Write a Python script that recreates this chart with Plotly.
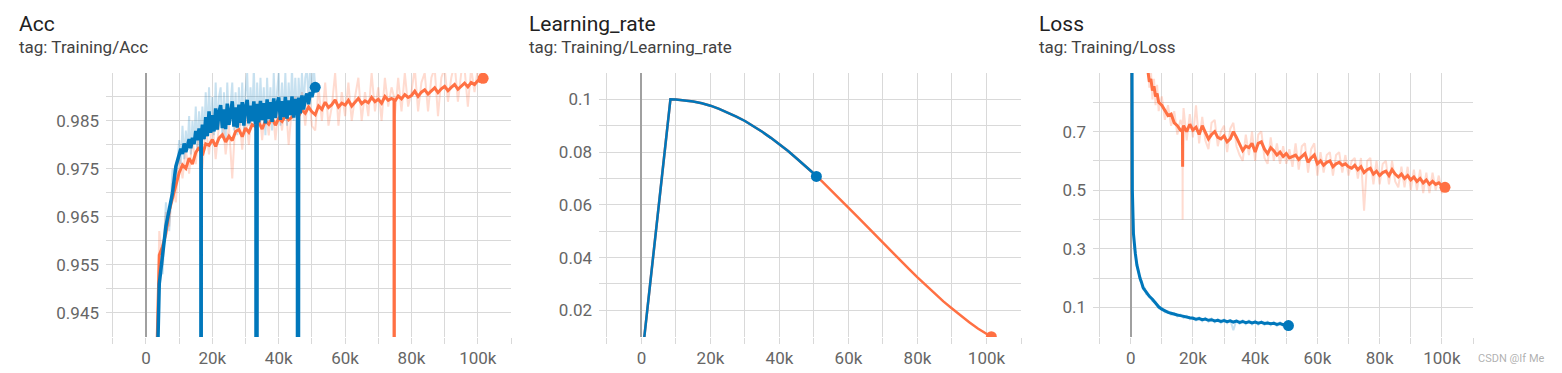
import plotly.graph_objects as go

# ---------------- DATA (steps in thousands) ----------------
acc_blue_steps = [3.5, 4, 5, 6, 7, 8, 9, 10, 10.5, 11, 11.5, 12, 12.5, 13, 13.5, 14, 14.5, 15, 15.5, 16,
                  16.55, 16.6, 16.65, 17, 17.5, 18, 18.5, 19, 19.5, 20, 20.5, 21, 21.5, 22, 22.5, 23, 23.5,
                  24, 24.5, 25, 25.5, 26, 26.5, 27, 27.5, 28, 28.5, 29, 29.5, 30, 30.5, 31, 31.5, 32, 32.5,
                  33, 33.15, 33.2, 33.25, 33.5, 34, 34.5, 35, 35.5, 36, 36.5, 37, 37.5, 38, 38.5, 39, 39.5,
                  40, 40.5, 41, 41.5, 42, 42.5, 43, 43.5, 44, 44.5, 45, 45.5, 45.65, 45.7, 45.75, 46, 46.5,
                  47, 47.5, 48, 48.5, 49, 49.5, 50, 50.5, 51]
acc_blue_smooth = [0.936, 0.951, 0.957, 0.963, 0.9665, 0.970, 0.9755, 0.9778, 0.9792, 0.9781, 0.9803, 0.9785,
                   0.9798, 0.9812, 0.9793, 0.9815, 0.9802, 0.9829, 0.9810, 0.9834,
                   0.9815, 0.60, 0.9818, 0.9842, 0.9812, 0.9858, 0.9818, 0.9870, 0.9825, 0.9862, 0.9828,
                   0.9876, 0.9832, 0.9868, 0.9883, 0.9835, 0.9874,
                   0.9833, 0.9886, 0.9842, 0.9872, 0.9891, 0.9838, 0.9878, 0.9836, 0.9884, 0.9846, 0.9889,
                   0.9840, 0.9880, 0.9894, 0.9845, 0.9882, 0.9849, 0.9891,
                   0.9843, 0.9846, 0.60, 0.9850, 0.9886, 0.9847, 0.9892, 0.9852, 0.9887, 0.9845, 0.9895,
                   0.9854, 0.9889, 0.9848, 0.9897, 0.9856, 0.9886,
                   0.9899, 0.9852, 0.9891, 0.9858, 0.9900, 0.9855, 0.9893, 0.9862, 0.9901, 0.9857, 0.9896,
                   0.9864, 0.9866, 0.60, 0.9868, 0.9899, 0.9866,
                   0.9903, 0.9874, 0.9898, 0.9907, 0.9885, 0.9910, 0.9900, 0.9914, 0.9920]
acc_blue_raw = [0.934, 0.955, 0.953, 0.968, 0.962, 0.975, 0.972, 0.981, 0.976, 0.984, 0.977, 0.983,
                0.979, 0.986, 0.978, 0.985, 0.980, 0.988, 0.979, 0.987,
                0.982, 0.60, 0.983, 0.988, 0.981, 0.991, 0.982, 0.992, 0.983, 0.990, 0.982,
                0.993, 0.983, 0.990, 0.992, 0.982, 0.991,
                0.981, 0.993, 0.984, 0.989, 0.993, 0.983, 0.991, 0.982, 0.992, 0.984, 0.993,
                0.983, 0.991, 0.995, 0.984, 0.992, 0.985, 0.996,
                0.983, 0.984, 0.60, 0.985, 0.993, 0.984, 0.994, 0.985, 0.992, 0.982, 0.994,
                0.985, 0.992, 0.983, 0.995, 0.986, 0.991,
                0.995, 0.984, 0.993, 0.985, 0.995, 0.984, 0.993, 0.986, 0.996, 0.985, 0.994,
                0.986, 0.987, 0.60, 0.987, 0.994, 0.987,
                0.995, 0.988, 0.994, 0.996, 0.989, 0.996, 0.990, 0.997, 0.992]

acc_orange_steps = [3.3, 4, 5, 6, 7, 8, 9, 10, 11, 12, 13, 14, 15, 16, 17, 18, 19, 20, 21, 22, 23, 24, 25, 26,
                    27, 28, 29, 30, 31, 32, 33, 34, 35, 36, 37, 38, 39, 40, 41, 42, 43, 44, 45, 46, 47, 48, 49,
                    50, 51, 52, 53, 54, 55, 56, 57, 58, 59, 60, 61, 62, 63, 64, 65, 66, 67, 68, 69, 70, 71, 72,
                    73, 74, 74.75, 74.8, 74.85, 75, 76, 77, 78, 79, 80, 81, 82, 83, 84, 85, 86, 87, 88, 89, 90,
                    91, 92, 93, 94, 95, 96, 97, 98, 99, 100, 101, 101.6]
acc_orange_smooth = [0.937, 0.9570, 0.9588, 0.9615, 0.9662, 0.9690, 0.9718, 0.9742, 0.9758, 0.9751, 0.9772,
                     0.9760, 0.9784, 0.9795, 0.9778, 0.9802, 0.9799, 0.9811, 0.9797, 0.9814, 0.9821, 0.9806,
                     0.9818, 0.9809, 0.9828, 0.9832, 0.9817, 0.9835, 0.9826, 0.9842, 0.9838, 0.9847, 0.9833,
                     0.9850, 0.9843, 0.9856, 0.9841, 0.9855, 0.9849, 0.9861, 0.9852, 0.9858, 0.9868, 0.9860,
                     0.9873, 0.9866, 0.9879, 0.9869, 0.9863, 0.9881, 0.9874, 0.9889, 0.9878, 0.9884, 0.9894,
                     0.9879, 0.9887, 0.9883, 0.9893, 0.9881, 0.9889, 0.9897, 0.9886, 0.9892, 0.9888, 0.9899,
                     0.9890, 0.9895, 0.9887, 0.9901, 0.9893, 0.9897, 0.9894, 0.60, 0.9893, 0.9891, 0.9902,
                     0.9896, 0.9905, 0.9899, 0.9903, 0.9912, 0.9901, 0.9910, 0.9915, 0.9906, 0.9913, 0.9919,
                     0.9909, 0.9917, 0.9922, 0.9913, 0.9920, 0.9926, 0.9916, 0.9923, 0.9929, 0.9921, 0.9930,
                     0.9926, 0.9934, 0.9932, 0.9939]
acc_orange_raw = [0.936, 0.962, 0.955, 0.966, 0.963, 0.972, 0.968, 0.978, 0.973, 0.979, 0.974, 0.981, 0.976,
                  0.983, 0.975, 0.984, 0.978, 0.985, 0.977, 0.984, 0.986, 0.978, 0.984, 0.973, 0.986, 0.987,
                  0.979, 0.987, 0.980, 0.988, 0.983, 0.989, 0.981, 0.988, 0.982, 0.989, 0.981, 0.988, 0.983,
                  0.990, 0.980, 0.988, 0.990, 0.983, 0.991, 0.984, 0.991, 0.984, 0.983, 0.992, 0.985, 0.993,
                  0.984, 0.988, 0.995, 0.984, 0.991, 0.986, 0.993, 0.985, 0.990, 0.994, 0.985, 0.991, 0.986,
                  0.995, 0.987, 0.992, 0.985, 0.994, 0.988, 0.992, 0.990, 0.60, 0.989, 0.986, 0.994, 0.987,
                  0.995, 0.988, 0.991, 0.996, 0.987, 0.993, 0.995, 0.987, 0.994, 0.996, 0.986, 0.994, 0.996,
                  0.989, 0.994, 0.997, 0.989, 0.995, 0.996, 0.988, 0.996, 0.991, 0.996, 0.994, 0.995]

lr_blue_steps = [0, 8.4, 10, 12.5, 15, 17.5, 20, 22.5, 25, 27.5, 30, 32.5, 35, 37.5, 40, 42.5, 45, 47.5, 50, 50.7]
lr_blue = [0.0, 0.1, 0.09995, 0.0997, 0.0992, 0.0985, 0.0976, 0.0964, 0.0951, 0.0935, 0.0918, 0.0898, 0.0877,
           0.0854, 0.0830, 0.0804, 0.0776, 0.0748, 0.0718, 0.0708]
lr_orange_steps = [0, 8.4, 10, 12.5, 15, 17.5, 20, 22.5, 25, 27.5, 30, 32.5, 35, 37.5, 40, 42.5, 45, 47.5, 50,
                   52.5, 55, 57.5, 60, 62.5, 65, 67.5, 70, 72.5, 75, 77.5, 80, 82.5, 85, 87.5, 90, 92.5, 95,
                   97.5, 100, 101.4]
lr_orange = [0.0, 0.1, 0.09995, 0.0997, 0.0992, 0.0985, 0.0976, 0.0964, 0.0951, 0.0935, 0.0918, 0.0898, 0.0877,
             0.0854, 0.0830, 0.0804, 0.0776, 0.0748, 0.0718, 0.0687, 0.0655, 0.0623, 0.0590, 0.0556, 0.0523,
             0.0489, 0.0456, 0.0422, 0.0389, 0.0357, 0.0325, 0.0294, 0.0264, 0.0234, 0.0207, 0.0180, 0.0155,
             0.0131, 0.0109, 0.0100]

loss_blue_steps = [0.3, 0.55, 0.9, 1.2, 1.5, 2, 2.5, 3, 3.5, 4, 4.5, 5, 6, 7, 8, 9, 10, 11, 12, 13, 14, 15, 16,
                   17, 18, 19, 20, 21, 22, 23, 24, 25, 26, 27, 28, 29, 30, 31, 32, 33, 34, 35, 36, 37, 38, 39,
                   40, 41, 42, 43, 44, 45, 46, 47, 48, 49, 50, 50.7]
loss_blue_smooth = [1.5, 0.50, 0.352, 0.31, 0.284, 0.245, 0.22, 0.20, 0.185, 0.168, 0.16, 0.152, 0.138, 0.128,
                    0.113, 0.102, 0.094, 0.088, 0.083, 0.080, 0.076, 0.074, 0.072, 0.069, 0.067, 0.065, 0.063,
                    0.060, 0.062, 0.058, 0.060, 0.056, 0.058, 0.054, 0.056, 0.052, 0.055, 0.051, 0.054, 0.050,
                    0.053, 0.049, 0.052, 0.048, 0.051, 0.047, 0.050, 0.046, 0.049, 0.045, 0.047, 0.044, 0.046,
                    0.042, 0.045, 0.041, 0.043, 0.038]
loss_blue_raw = [1.6, 0.48, 0.36, 0.30, 0.29, 0.238, 0.225, 0.192, 0.19, 0.160, 0.165, 0.145, 0.142, 0.121,
                 0.118, 0.097, 0.098, 0.083, 0.087, 0.075, 0.080, 0.069, 0.076, 0.064, 0.071, 0.060, 0.067,
                 0.056, 0.066, 0.053, 0.064, 0.051, 0.062, 0.049, 0.060, 0.047, 0.059, 0.046, 0.058, 0.022,
                 0.057, 0.044, 0.056, 0.043, 0.055, 0.042, 0.054, 0.041, 0.053, 0.040, 0.051, 0.039, 0.050,
                 0.037, 0.049, 0.036, 0.047, 0.036]

loss_orange_steps = [5.0, 5.6, 6, 6.5, 7, 7.5, 8, 8.5, 9, 10, 11, 12, 13, 14, 15, 16, 16.65, 16.7, 16.75, 17,
                     18, 19, 20, 21, 22, 23, 24, 25, 26, 27, 28, 29, 30, 31, 32, 33, 34, 35, 36, 37, 38, 39,
                     40, 41, 42, 43, 44, 45, 46, 47, 48, 49, 50, 51, 52, 53, 54, 55, 56, 57, 58, 59, 60, 61,
                     62, 63, 64, 65, 66, 67, 68, 69, 70, 71, 72, 73, 74, 75, 76, 77, 78, 79, 80, 81, 82, 83,
                     84, 85, 86, 87, 88, 89, 90, 91, 92, 93, 94, 95, 96, 97, 98, 99, 100, 101]
loss_orange_smooth = [0.95, 0.90, 0.87, 0.88, 0.84, 0.855, 0.82, 0.83, 0.80, 0.79, 0.77, 0.755, 0.76, 0.73,
                      0.72, 0.705, 0.70, 0.58, 0.71, 0.72,
                      0.70, 0.725, 0.705, 0.715, 0.69, 0.72, 0.70, 0.675, 0.69, 0.70,
                      0.68, 0.675, 0.685, 0.665, 0.675, 0.70, 0.68, 0.655, 0.635, 0.65, 0.645, 0.66, 0.63,
                      0.66, 0.665, 0.64, 0.625, 0.645, 0.635, 0.62, 0.63, 0.615, 0.625, 0.61, 0.615, 0.62,
                      0.605, 0.615, 0.625, 0.595, 0.61, 0.62, 0.59, 0.60, 0.585, 0.595, 0.60, 0.58, 0.59,
                      0.595, 0.585, 0.59, 0.58, 0.575, 0.585, 0.57, 0.58, 0.56, 0.57, 0.575, 0.555, 0.565,
                      0.55, 0.56, 0.565, 0.55, 0.57, 0.555, 0.545, 0.555, 0.54, 0.55, 0.535, 0.545, 0.53,
                      0.54, 0.525, 0.535, 0.52, 0.53, 0.52, 0.525, 0.515, 0.51]
loss_orange_raw = [0.98, 0.93, 0.85, 0.91, 0.81, 0.88, 0.79, 0.86, 0.77, 0.82, 0.74, 0.79, 0.72, 0.77, 0.69,
                   0.74, 0.72, 0.40, 0.72, 0.78,
                   0.67, 0.76, 0.68, 0.79, 0.66, 0.75, 0.67, 0.64, 0.73, 0.74, 0.65, 0.70,
                   0.72, 0.63, 0.71, 0.73, 0.65, 0.62, 0.60, 0.69, 0.62, 0.70, 0.60, 0.69, 0.70, 0.61, 0.59,
                   0.68, 0.60, 0.66, 0.59, 0.65, 0.59, 0.64, 0.58, 0.66, 0.57, 0.65, 0.66, 0.56, 0.64, 0.66,
                   0.55, 0.63, 0.56, 0.62, 0.63, 0.55, 0.62, 0.63, 0.56, 0.62, 0.55, 0.60, 0.61, 0.54, 0.61,
                   0.43, 0.60, 0.61, 0.52, 0.60, 0.52, 0.59, 0.60, 0.52, 0.60, 0.53, 0.51, 0.58, 0.51, 0.58,
                   0.50, 0.57, 0.50, 0.57, 0.49, 0.56, 0.49, 0.56, 0.50, 0.55, 0.49, 0.52]

x_tick_vals = [-10, 0, 10, 20, 30, 40, 50, 60, 70, 80, 90, 100, 110]
x_tick_text = ["", "0", "", "20k", "", "40k", "", "60k", "", "80k", "", "100k", ""]
acc_tick_vals = [0.94, 0.945, 0.95, 0.955, 0.96, 0.965, 0.97, 0.975, 0.98, 0.985, 0.99]
acc_tick_text = ["", "0.945", "", "0.955", "", "0.965", "", "0.975", "", "0.985", ""]
lr_tick_vals = [0.01, 0.02, 0.03, 0.04, 0.05, 0.06, 0.07, 0.08, 0.09, 0.1]
lr_tick_text = ["", "0.02", "", "0.04", "", "0.06", "", "0.08", "", "0.1"]
loss_tick_vals = [0, 0.1, 0.2, 0.3, 0.4, 0.5, 0.6, 0.7, 0.8]
loss_tick_text = ["", "0.1", "", "0.3", "", "0.5", "", "0.7", ""]

panel_titles = ["Acc", "Learning_rate", "Loss"]
panel_tags = ["tag: Training/Acc", "tag: Training/Learning_rate", "tag: Training/Loss"]

# ---------------- STYLE ----------------
BLUE = "#0077bb"
ORANGE = "#ff7043"
BLUE_RAW = "rgba(0,119,187,0.22)"
ORANGE_RAW = "rgba(255,112,67,0.25)"
W, H = 1562, 373

fig = go.Figure()


def add_panel(idx, series):
    xa = "x" if idx == 1 else f"x{idx}"
    ya = "y" if idx == 1 else f"y{idx}"
    for steps, vals, color, width in series:
        fig.add_trace(go.Scatter(x=steps, y=vals, mode="lines", xaxis=xa, yaxis=ya,
                                 line=dict(color=color, width=width), hoverinfo="skip"))


def add_dot(idx, steps, vals, color):
    xa = "x" if idx == 1 else f"x{idx}"
    ya = "y" if idx == 1 else f"y{idx}"
    fig.add_trace(go.Scatter(x=[steps[-1]], y=[vals[-1]], mode="markers", xaxis=xa, yaxis=ya,
                             marker=dict(color=color, size=11), hoverinfo="skip"))


add_panel(1, [(acc_orange_steps, acc_orange_raw, ORANGE_RAW, 2),
              (acc_blue_steps, acc_blue_raw, BLUE_RAW, 2),
              (acc_orange_steps, acc_orange_smooth, ORANGE, 3),
              (acc_blue_steps, acc_blue_smooth, BLUE, 3.5)])
add_dot(1, acc_orange_steps, acc_orange_smooth, ORANGE)
add_dot(1, acc_blue_steps, acc_blue_smooth, BLUE)

add_panel(2, [(lr_orange_steps, lr_orange, ORANGE, 2.5),
              (lr_blue_steps, lr_blue, BLUE, 2.5)])
add_dot(2, lr_orange_steps, lr_orange, ORANGE)
add_dot(2, lr_blue_steps, lr_blue, BLUE)

add_panel(3, [(loss_orange_steps, loss_orange_raw, ORANGE_RAW, 2),
              (loss_blue_steps, loss_blue_raw, BLUE_RAW, 2),
              (loss_orange_steps, loss_orange_smooth, ORANGE, 3),
              (loss_blue_steps, loss_blue_smooth, BLUE, 3)])
add_dot(3, loss_orange_steps, loss_orange_smooth, ORANGE)
add_dot(3, loss_blue_steps, loss_blue_smooth, BLUE)

x_domains = [(106, 511), (599, 1021), (1093, 1473)]
x_ranges = [[-12.05, 110], [-12.3, 110], [-12.1, 110]]
y_ticks = [(acc_tick_vals, acc_tick_text, [0.9399, 0.995]),
           (lr_tick_vals, lr_tick_text, [0.0099, 0.11]),
           (loss_tick_vals, loss_tick_text, [-0.001, 0.9])]
title_x = [17, 527, 1037]

GRID = "#d9d9d9"
TICKFONT = dict(family="Roboto, Arial, sans-serif", size=17, color="#666666")
y_dom = [1 - 337 / H, 1 - 73 / H]

layout = dict(width=W, height=H, margin=dict(l=0, r=0, t=0, b=0),
              paper_bgcolor="white", plot_bgcolor="white", showlegend=False,
              font=dict(family="Roboto, Arial, sans-serif"))
annotations = []
for i in range(3):
    n = "" if i == 0 else str(i + 1)
    layout[f"xaxis{n}"] = dict(domain=[x_domains[i][0] / W, x_domains[i][1] / W], range=x_ranges[i],
                               anchor=f"y{n}", tickvals=x_tick_vals, ticktext=x_tick_text,
                               showgrid=True, gridcolor=GRID, gridwidth=1,
                               zeroline=True, zerolinecolor="#a0a0a0", zerolinewidth=2,
                               ticks="outside", ticklen=6, tickcolor=GRID, tickfont=TICKFONT,
                               showline=False, fixedrange=True)
    tv, tt, rng = y_ticks[i]
    layout[f"yaxis{n}"] = dict(domain=y_dom, range=rng, anchor=f"x{n}", tickvals=tv, ticktext=tt,
                               showgrid=True, gridcolor=GRID, gridwidth=1, zeroline=False,
                               ticks="", tickfont=TICKFONT, ticklabelstandoff=6,
                               showline=False, fixedrange=True)
    annotations.append(dict(text=panel_titles[i], x=title_x[i] / W, y=1 - 24 / H, xref="paper", yref="paper",
                            xanchor="left", yanchor="middle", showarrow=False,
                            font=dict(size=21, color="#212121", family="Roboto, Arial, sans-serif")))
    annotations.append(dict(text=panel_tags[i], x=title_x[i] / W, y=1 - 47 / H, xref="paper", yref="paper",
                            xanchor="left", yanchor="middle", showarrow=False,
                            font=dict(size=17, color="#424242", family="Roboto, Arial, sans-serif")))
annotations.append(dict(text="CSDN @If Me", x=1547 / W, y=1 - 358 / H, xref="paper", yref="paper",
                        xanchor="right", yanchor="middle", showarrow=False,
                        font=dict(size=11, color="rgba(150,150,150,0.75)", family="Roboto, Arial, sans-serif")))
layout["annotations"] = annotations
fig.update_layout(**layout)
fig.write_html("out.html", config={"displayModeBar": False},
               post_script="document.body.style.margin='0px';document.body.style.overflow='hidden';")
